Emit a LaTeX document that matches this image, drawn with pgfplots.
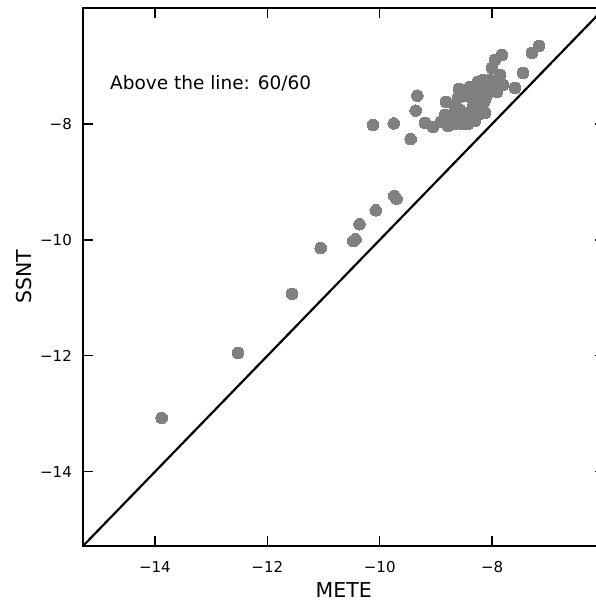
\documentclass[border=0pt]{standalone}
\usepackage{pgfplots}
\pgfplotsset{compat=1.18}
\usepackage{fontspec}
\setmainfont{DejaVu Sans}
\definecolor{ptgray}{RGB}{128,128,128}
\pgfplotstableread{
x y
-13.88 -13.07
-12.52 -11.95
-11.56 -10.93
-11.05 -10.14
-10.47 -10.02
-10.43 -9.99
-10.36 -9.73
-10.07 -9.49
-9.74 -9.24
-9.70 -9.29
-10.12 -8.02
-9.75 -7.99
-9.45 -8.26
-9.36 -7.77
-9.33 -7.51
-9.196 -7.983
-9.053 -8.052
-8.911 -7.966
-8.786 -8.034
-8.662 -8.000
-8.537 -8.000
-8.431 -8.000
-8.306 -7.948
-8.822 -7.621
-8.662 -7.707
-8.573 -7.759
-8.448 -7.810
-8.342 -7.707
-8.217 -7.690
-8.164 -7.655
-8.253 -7.845
-8.395 -7.897
-8.537 -7.862
-8.698 -7.879
-8.128 -7.586
-8.591 -7.397
-8.395 -7.362
-8.253 -7.276
-8.075 -7.414
-7.950 -7.328
-7.808 -7.328
-7.594 -7.379
-7.861 -7.155
-8.004 -7.034
-7.950 -6.897
-7.826 -6.810
-7.452 -7.121
-7.292 -6.776
-7.167 -6.655
-8.484 -7.517
-8.358 -7.552
-8.217 -7.448
-8.093 -7.500
-8.609 -7.552
-8.306 -7.603
-8.039 -7.241
-8.164 -7.241
-7.915 -7.448
-8.840 -7.845
-8.128 -7.810
}\pts
\pgfplotstableread{
x y
-15.28 -15.28
-6.0 -6.0
}\diag
\begin{document}
\begin{tikzpicture}
\begin{axis}[
  name=ax,
  at={(0,0)}, anchor=south west,
  scale only axis,
  width=521.5pt, height=538pt,
  xmin=-15.28, xmax=-6.0, ymin=-15.28, ymax=-6.0,
  axis line style={line width=2.3pt, black},
  xtick={-14,-12,-10,-8}, xticklabels={−14,−12,−10,−8},
  ytick={-14,-12,-10,-8}, yticklabels={−14,−12,−10,−8},
  tick align=inside,
  major tick length=10pt,
  tick style={line width=1.3pt, black},
  xtick pos=both, ytick pos=both,
  xticklabel pos=lower, yticklabel pos=left,
  ticklabel style={font=\fontsize{15}{18}\selectfont, inner sep=0pt},
  xticklabel style={anchor=base, yshift=-26.6pt},
  yticklabel style={anchor=east, xshift=-11pt},
  xlabel={METE},
  ylabel={SSNT},
  label style={font=\fontsize{20.5}{24}\selectfont, inner sep=0pt},
  xlabel style={at={(axis description cs:0.5,-0.0948)}, anchor=base},
  ylabel style={at={(axis description cs:-0.0988,0.5)}, rotate=0, anchor=base},
  clip=true,
]
\addplot[black, line width=2.2pt, no marks] table[x=x,y=y]{\diag};
\addplot[only marks, color=ptgray, mark=*, mark size=5.8pt, mark options={fill=ptgray, draw=ptgray, line width=0pt}] table[x=x,y=y]{\pts};
\node[anchor=base west, font=\fontsize{18.5}{22}\selectfont, inner sep=0pt] at (axis cs:-14.8,-7.4) {Above the line: 60/60};
\end{axis}
\pgfresetboundingbox
\path[use as bounding box] ([shift={(-83pt,-55pt)}]ax.south west) rectangle ([shift={(513pt,8pt)}]ax.north west);
\end{tikzpicture}
\end{document}
